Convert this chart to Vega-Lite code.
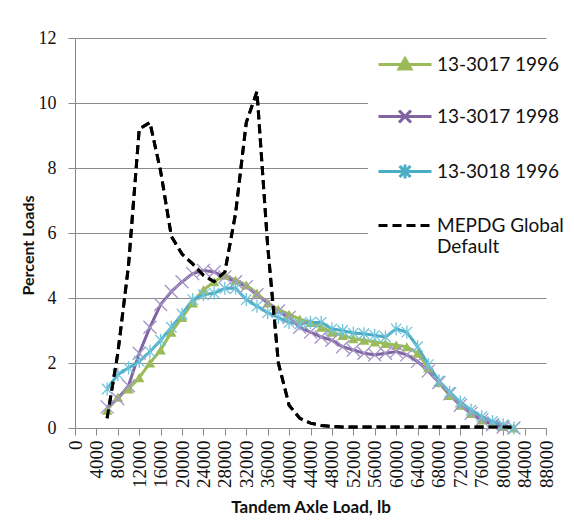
{
  "$schema": "https://vega.github.io/schema/vega-lite/v6.json",
  "width": 471,
  "height": 390,
  "autosize": "none",
  "padding": {"left": 75, "top": 38, "right": 28, "bottom": 96},
  "background": "white",
  "config": {"view": {"stroke": null}},
  "data": {"values": [
    {"s":"13-3017 1996","x":6000,"y":0.55},{"s":"13-3017 1996","x":8000,"y":0.95},{"s":"13-3017 1996","x":10000,"y":1.2},{"s":"13-3017 1996","x":12000,"y":1.55},{"s":"13-3017 1996","x":14000,"y":2.0},{"s":"13-3017 1996","x":16000,"y":2.4},{"s":"13-3017 1996","x":18000,"y":2.95},{"s":"13-3017 1996","x":20000,"y":3.4},{"s":"13-3017 1996","x":22000,"y":3.85},{"s":"13-3017 1996","x":24000,"y":4.25},{"s":"13-3017 1996","x":26000,"y":4.5},{"s":"13-3017 1996","x":28000,"y":4.7},{"s":"13-3017 1996","x":30000,"y":4.55},{"s":"13-3017 1996","x":32000,"y":4.4},{"s":"13-3017 1996","x":34000,"y":4.15},{"s":"13-3017 1996","x":36000,"y":3.85},{"s":"13-3017 1996","x":38000,"y":3.65},{"s":"13-3017 1996","x":40000,"y":3.5},{"s":"13-3017 1996","x":42000,"y":3.35},{"s":"13-3017 1996","x":44000,"y":3.25},{"s":"13-3017 1996","x":46000,"y":3.1},{"s":"13-3017 1996","x":48000,"y":2.95},{"s":"13-3017 1996","x":50000,"y":2.85},{"s":"13-3017 1996","x":52000,"y":2.75},{"s":"13-3017 1996","x":54000,"y":2.7},{"s":"13-3017 1996","x":56000,"y":2.65},{"s":"13-3017 1996","x":58000,"y":2.6},{"s":"13-3017 1996","x":60000,"y":2.55},{"s":"13-3017 1996","x":62000,"y":2.5},{"s":"13-3017 1996","x":64000,"y":2.3},{"s":"13-3017 1996","x":66000,"y":1.85},{"s":"13-3017 1996","x":68000,"y":1.4},{"s":"13-3017 1996","x":70000,"y":1.0},{"s":"13-3017 1996","x":72000,"y":0.7},{"s":"13-3017 1996","x":74000,"y":0.45},{"s":"13-3017 1996","x":76000,"y":0.25},{"s":"13-3017 1996","x":78000,"y":0.12},{"s":"13-3017 1996","x":80000,"y":0.05},{"s":"13-3017 1996","x":82000,"y":0.0},
    {"s":"13-3017 1998","x":6000,"y":0.65},{"s":"13-3017 1998","x":8000,"y":0.9},{"s":"13-3017 1998","x":10000,"y":1.3},{"s":"13-3017 1998","x":12000,"y":2.3},{"s":"13-3017 1998","x":14000,"y":3.1},{"s":"13-3017 1998","x":16000,"y":3.8},{"s":"13-3017 1998","x":18000,"y":4.2},{"s":"13-3017 1998","x":20000,"y":4.5},{"s":"13-3017 1998","x":22000,"y":4.75},{"s":"13-3017 1998","x":24000,"y":4.85},{"s":"13-3017 1998","x":26000,"y":4.8},{"s":"13-3017 1998","x":28000,"y":4.65},{"s":"13-3017 1998","x":30000,"y":4.5},{"s":"13-3017 1998","x":32000,"y":4.35},{"s":"13-3017 1998","x":34000,"y":4.1},{"s":"13-3017 1998","x":36000,"y":3.85},{"s":"13-3017 1998","x":38000,"y":3.6},{"s":"13-3017 1998","x":40000,"y":3.4},{"s":"13-3017 1998","x":42000,"y":3.1},{"s":"13-3017 1998","x":44000,"y":2.95},{"s":"13-3017 1998","x":46000,"y":2.8},{"s":"13-3017 1998","x":48000,"y":2.7},{"s":"13-3017 1998","x":50000,"y":2.5},{"s":"13-3017 1998","x":52000,"y":2.4},{"s":"13-3017 1998","x":54000,"y":2.3},{"s":"13-3017 1998","x":56000,"y":2.25},{"s":"13-3017 1998","x":58000,"y":2.3},{"s":"13-3017 1998","x":60000,"y":2.35},{"s":"13-3017 1998","x":62000,"y":2.25},{"s":"13-3017 1998","x":64000,"y":2.05},{"s":"13-3017 1998","x":66000,"y":1.75},{"s":"13-3017 1998","x":68000,"y":1.4},{"s":"13-3017 1998","x":70000,"y":1.05},{"s":"13-3017 1998","x":72000,"y":0.7},{"s":"13-3017 1998","x":74000,"y":0.45},{"s":"13-3017 1998","x":76000,"y":0.25},{"s":"13-3017 1998","x":78000,"y":0.1},{"s":"13-3017 1998","x":80000,"y":0.03},{"s":"13-3017 1998","x":82000,"y":0.0},
    {"s":"13-3018 1996","x":6000,"y":1.2},{"s":"13-3018 1996","x":8000,"y":1.65},{"s":"13-3018 1996","x":10000,"y":1.85},{"s":"13-3018 1996","x":12000,"y":2.05},{"s":"13-3018 1996","x":14000,"y":2.35},{"s":"13-3018 1996","x":16000,"y":2.7},{"s":"13-3018 1996","x":18000,"y":3.1},{"s":"13-3018 1996","x":20000,"y":3.5},{"s":"13-3018 1996","x":22000,"y":3.95},{"s":"13-3018 1996","x":24000,"y":4.1},{"s":"13-3018 1996","x":26000,"y":4.15},{"s":"13-3018 1996","x":28000,"y":4.3},{"s":"13-3018 1996","x":30000,"y":4.3},{"s":"13-3018 1996","x":32000,"y":3.95},{"s":"13-3018 1996","x":34000,"y":3.75},{"s":"13-3018 1996","x":36000,"y":3.55},{"s":"13-3018 1996","x":38000,"y":3.4},{"s":"13-3018 1996","x":40000,"y":3.25},{"s":"13-3018 1996","x":42000,"y":3.2},{"s":"13-3018 1996","x":44000,"y":3.25},{"s":"13-3018 1996","x":46000,"y":3.25},{"s":"13-3018 1996","x":48000,"y":3.05},{"s":"13-3018 1996","x":50000,"y":3.0},{"s":"13-3018 1996","x":52000,"y":2.92},{"s":"13-3018 1996","x":54000,"y":2.9},{"s":"13-3018 1996","x":56000,"y":2.85},{"s":"13-3018 1996","x":58000,"y":2.8},{"s":"13-3018 1996","x":60000,"y":3.05},{"s":"13-3018 1996","x":62000,"y":2.95},{"s":"13-3018 1996","x":64000,"y":2.5},{"s":"13-3018 1996","x":66000,"y":1.95},{"s":"13-3018 1996","x":68000,"y":1.45},{"s":"13-3018 1996","x":70000,"y":1.1},{"s":"13-3018 1996","x":72000,"y":0.8},{"s":"13-3018 1996","x":74000,"y":0.55},{"s":"13-3018 1996","x":76000,"y":0.35},{"s":"13-3018 1996","x":78000,"y":0.2},{"s":"13-3018 1996","x":80000,"y":0.1},{"s":"13-3018 1996","x":82000,"y":0.0},
    {"s":"MEPDG Global Default","x":6000,"y":0.3},{"s":"MEPDG Global Default","x":8000,"y":2.3},{"s":"MEPDG Global Default","x":10000,"y":5.0},{"s":"MEPDG Global Default","x":12000,"y":9.2},{"s":"MEPDG Global Default","x":14000,"y":9.4},{"s":"MEPDG Global Default","x":16000,"y":7.9},{"s":"MEPDG Global Default","x":18000,"y":5.9},{"s":"MEPDG Global Default","x":20000,"y":5.35},{"s":"MEPDG Global Default","x":22000,"y":5.05},{"s":"MEPDG Global Default","x":24000,"y":4.7},{"s":"MEPDG Global Default","x":26000,"y":4.5},{"s":"MEPDG Global Default","x":28000,"y":4.8},{"s":"MEPDG Global Default","x":30000,"y":6.6},{"s":"MEPDG Global Default","x":32000,"y":9.4},{"s":"MEPDG Global Default","x":34000,"y":10.35},{"s":"MEPDG Global Default","x":36000,"y":5.6},{"s":"MEPDG Global Default","x":38000,"y":2.0},{"s":"MEPDG Global Default","x":40000,"y":0.7},{"s":"MEPDG Global Default","x":42000,"y":0.3},{"s":"MEPDG Global Default","x":44000,"y":0.15},{"s":"MEPDG Global Default","x":46000,"y":0.08},{"s":"MEPDG Global Default","x":48000,"y":0.05},{"s":"MEPDG Global Default","x":50000,"y":0.03},{"s":"MEPDG Global Default","x":52000,"y":0.03},{"s":"MEPDG Global Default","x":54000,"y":0.03},{"s":"MEPDG Global Default","x":56000,"y":0.03},{"s":"MEPDG Global Default","x":58000,"y":0.03},{"s":"MEPDG Global Default","x":60000,"y":0.03},{"s":"MEPDG Global Default","x":62000,"y":0.03},{"s":"MEPDG Global Default","x":64000,"y":0.03},{"s":"MEPDG Global Default","x":66000,"y":0.03},{"s":"MEPDG Global Default","x":68000,"y":0.03},{"s":"MEPDG Global Default","x":70000,"y":0.03},{"s":"MEPDG Global Default","x":72000,"y":0.03},{"s":"MEPDG Global Default","x":74000,"y":0.03},{"s":"MEPDG Global Default","x":76000,"y":0.03},{"s":"MEPDG Global Default","x":78000,"y":0.03},{"s":"MEPDG Global Default","x":80000,"y":0.03},{"s":"MEPDG Global Default","x":82000,"y":0.02}
  ]},
  "encoding": {
    "x": {"field": "x", "type": "quantitative",
      "scale": {"domain": [0, 88000], "nice": false},
      "axis": {"values": [0,4000,8000,12000,16000,20000,24000,28000,32000,36000,40000,44000,48000,52000,56000,60000,64000,68000,72000,76000,80000,84000,88000],
        "format": "d", "labelAngle": -90, "labelFont": "Liberation Serif", "labelFontSize": 19, "labelColor": "#111",
        "labelPadding": 5, "tickSize": 7, "tickColor": "#8a8a8a", "domainColor": "#8a8a8a", "grid": false,
        "title": "Tandem Axle Load, lb", "titleFont": "Lato", "titleFontSize": 17, "titleFontWeight": "bold", "titleColor": "#111", "titlePadding": 12,
        "labelFlush": false, "labelOverlap": false}},
    "y": {"field": "y", "type": "quantitative",
      "scale": {"domain": [0, 12], "nice": false},
      "axis": {"values": [0,2,4,6,8,10,12], "labelFont": "Liberation Serif", "labelFontSize": 18, "labelColor": "#111",
        "labelPadding": 12, "tickSize": 7, "tickColor": "#8a8a8a", "domainColor": "#8a8a8a",
        "grid": true, "gridColor": "#8a8a8a", "gridWidth": 1,
        "title": "Percent Loads", "titleFont": "Lato", "titleFontSize": 16, "titleFontWeight": "bold", "titleColor": "#111", "titlePadding": 2, "titleY": 207}}
  },
  "layer": [
    {
      "mark": {"type": "line", "strokeWidth": 3},
      "encoding": {
        "color": {"field": "s", "type": "nominal",
          "scale": {"domain": ["13-3017 1996","13-3017 1998","13-3018 1996","MEPDG Global Default"], "range": ["#9BBB59","#8064A2","#4BACC6","#000000"]},
          "legend": {"title": null, "orient": "none", "legendX": 293, "legendY": 7, "padding": 8,
            "fillColor": "white", "symbolSize": 400, "symbolStrokeWidth": 3, "rowPadding": 29,
            "labelFont": "Lato", "labelFontSize": 19, "labelColor": "#111", "labelOffset": 38, "labelLimit": 300,
            "labelExpr": "datum.label === 'MEPDG Global Default' ? ['MEPDG Global', 'Default'] : datum.label",
            "encode": {"symbols": {"update": {
              "shape": {"signal": "datum.value === '13-3017 1996' ? 'M-0.9,0H4.4M1.75,-0.6L2.35,0.45H1.15Z' : datum.value === '13-3017 1998' ? 'M-0.9,0H4.4M1.15,-0.6L2.35,0.6M1.15,0.6L2.35,-0.6' : datum.value === '13-3018 1996' ? 'M-0.9,0H4.4M1.2,-0.55L2.3,0.55M1.2,0.55L2.3,-0.55M1.75,-0.7V0.7' : 'M-0.9,0H4.4'"},
              "fill": {"signal": "datum.value === '13-3017 1996' ? '#9BBB59' : 'transparent'"}
            }}}}},
        "strokeDash": {"field": "s", "type": "nominal",
          "scale": {"domain": ["13-3017 1996","13-3017 1998","13-3018 1996","MEPDG Global Default"], "range": [[1,0],[1,0],[1,0],[9,5]]},
          "legend": {"title": null}}
      }
    },
    {
      "transform": [{"filter": "datum.s === '13-3017 1996'"}],
      "mark": {"type": "point", "shape": "triangle-up", "filled": true, "color": "#9BBB59", "size": 110, "opacity": 1}
    },
    {
      "transform": [{"filter": "datum.s === '13-3017 1998'"}],
      "mark": {"type": "point", "shape": "M-1,-1L1,1M-1,1L1,-1", "filled": false, "stroke": "#A393C6", "strokeWidth": 1.3, "size": 170, "opacity": 1}
    },
    {
      "transform": [{"filter": "datum.s === '13-3018 1996'"}],
      "mark": {"type": "point", "shape": "M-0.8,-0.8L0.8,0.8M-0.8,0.8L0.8,-0.8M0,-1V1", "filled": false, "stroke": "#6FC3DA", "strokeWidth": 1.3, "size": 170, "opacity": 1}
    },
    {
      "transform": [{"filter": "datum.s === 'MEPDG Global Default'"}],
      "mark": {"type": "line", "strokeWidth": 3, "color": "#000000", "strokeDash": [9, 5]}
    }
  ]
}
